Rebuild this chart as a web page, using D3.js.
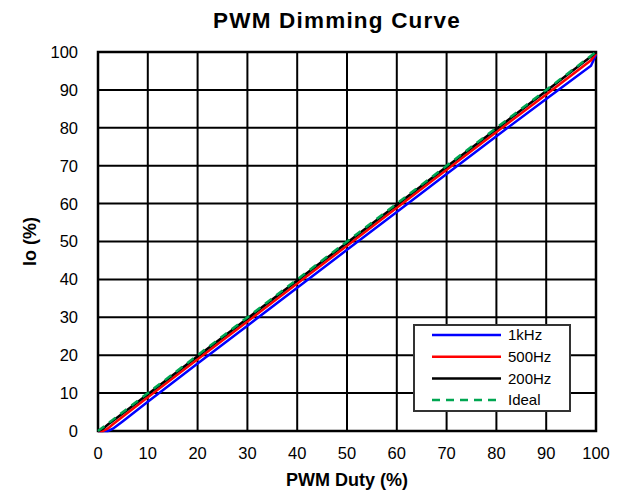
<!DOCTYPE html>
<html>
<head>
<meta charset="utf-8">
<script src="https://cdn.jsdelivr.net/npm/d3@7"></script>
<style>
  body { margin: 0; background: #fff; }
  text { font-family: "Liberation Sans", Arial, sans-serif; }
</style>
</head>
<body>
<svg id="chart" width="618" height="493"></svg>
<script>
const duty = [0, 1, 2, 3, 5, 10, 20, 30, 40, 50, 60, 70, 80, 90, 99, 100];
const io1k = [0, 0, 0, 0.6, 2.6, 7.7, 17.8, 27.8, 37.8, 47.8, 57.8, 67.8, 77.8, 87.6, 96.4, 99.3];
const io500 = [0, 0, 0.7, 1.8, 3.8, 8.9, 18.9, 28.9, 38.9, 48.9, 58.9, 68.9, 78.9, 88.8, 97.8, 99.6];
const io200 = [0, 0.6, 1.7, 2.7, 4.7, 9.7, 19.7, 29.7, 39.7, 49.7, 59.7, 69.7, 79.7, 89.7, 98.8, 99.9];
const ideal = [0, 1, 2, 3, 5, 10, 20, 30, 40, 50, 60, 70, 80, 90, 99, 100];
const ticks = [0, 10, 20, 30, 40, 50, 60, 70, 80, 90, 100];

const series = [
  { name: "1kHz", values: io1k, color: "#0000ff", dash: null },
  { name: "500Hz", values: io500, color: "#ff0000", dash: null },
  { name: "200Hz", values: io200, color: "#000000", dash: null },
  { name: "Ideal", values: ideal, color: "#00a651", dash: "8,6" }
];

const svg = d3.select("#chart");
const plotLeft = 98, plotRight = 596, plotTop = 52, plotBottom = 431;

const x = d3.scaleLinear().domain([0, 100]).range([plotLeft, plotRight]);
const y = d3.scaleLinear().domain([0, 100]).range([plotBottom, plotTop]);

// grid
svg.append("g").selectAll("line").data(ticks).enter()
  .append("line")
  .attr("x1", d => x(d)).attr("x2", d => x(d))
  .attr("y1", plotTop).attr("y2", plotBottom)
  .style("stroke", "#000").style("stroke-width", 2);

svg.append("g").selectAll("line").data(ticks).enter()
  .append("line")
  .attr("x1", plotLeft).attr("x2", plotRight)
  .attr("y1", d => y(d)).attr("y2", d => y(d))
  .style("stroke", "#000").style("stroke-width", 2);

svg.append("rect")
  .attr("x", plotLeft).attr("y", plotTop)
  .attr("width", plotRight - plotLeft).attr("height", plotBottom - plotTop)
  .style("fill", "none").style("stroke", "#000").style("stroke-width", 2.5);

// tick labels
svg.append("g").selectAll("text").data(ticks).enter()
  .append("text")
  .attr("x", 78).attr("y", d => y(d))
  .attr("dy", "0.36em")
  .attr("text-anchor", "end")
  .style("font-size", "16.5px")
  .text(d => d);

svg.append("g").selectAll("text").data(ticks).enter()
  .append("text")
  .attr("x", d => x(d)).attr("y", 459)
  .attr("text-anchor", "middle")
  .style("font-size", "16.5px")
  .text(d => d);

// lines
const line = d3.line()
  .x((d, i) => x(duty[i]))
  .y(d => y(d));

series.forEach(s => {
  svg.append("path")
    .datum(s.values)
    .attr("d", line)
    .style("fill", "none")
    .style("stroke", s.color)
    .style("stroke-width", 2.5)
    .style("stroke-dasharray", s.dash);
});

// titles
svg.append("text")
  .attr("x", 337).attr("y", 28)
  .attr("text-anchor", "middle")
  .style("font-size", "22.5px").style("font-weight", "bold")
  .style("letter-spacing", "1.2px")
  .text("PWM Dimming Curve");

svg.append("text")
  .attr("x", 347).attr("y", 486)
  .attr("text-anchor", "middle")
  .style("font-size", "18px").style("font-weight", "bold")
  .text("PWM Duty (%)");

svg.append("text")
  .attr("transform", "translate(36," + ((plotTop + plotBottom) / 2) + ") rotate(-90)")
  .attr("text-anchor", "middle")
  .style("font-size", "18px").style("font-weight", "bold")
  .text("Io (%)");

// legend
const lg = svg.append("g");
lg.append("rect")
  .attr("x", 414).attr("y", 325)
  .attr("width", 156).attr("height", 86)
  .style("fill", "#fff").style("stroke", "#333").style("stroke-width", 2);

const rows = lg.selectAll("g.row").data(series).enter()
  .append("g")
  .attr("class", "row")
  .attr("transform", (d, i) => `translate(0, ${335 + i * 21.7})`);

rows.append("line")
  .attr("x1", 432).attr("x2", 501)
  .attr("y1", 0).attr("y2", 0)
  .style("stroke", d => d.color)
  .style("stroke-width", 2.5)
  .style("stroke-dasharray", d => d.dash);

rows.append("text")
  .attr("x", 508).attr("y", 0)
  .attr("dy", "0.35em")
  .style("font-size", "15px")
  .text(d => d.name);
</script>
</body>
</html>
